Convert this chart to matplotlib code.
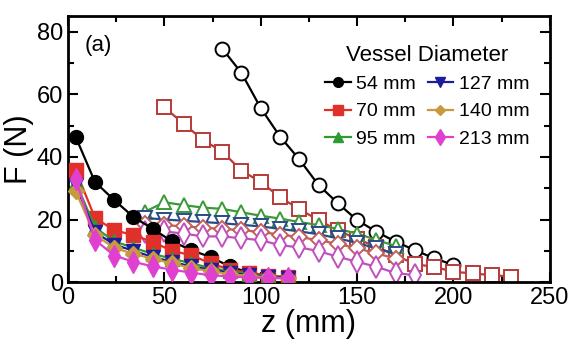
import numpy as np
import matplotlib.pyplot as plt
from matplotlib.ticker import MultipleLocator

plt.rcParams['font.family'] = ['Liberation Sans', 'DejaVu Sans']

# vessel diameters and plotting styles
diameters = ['54 mm', '70 mm', '95 mm', '127 mm', '140 mm', '213 mm']
colors = ['black', '#e0302a', '#2f9a30', '#1c1c9c', '#c89a40', '#e040d0']
edge_open = ['black', '#b83a3a', '#3a9a3a', '#2a4a8a', '#c0605a', '#c050c0']
markers = ['o', 's', '^', 'v', 'D', 'd']
sizes = [10, 10, 10, 10, 8, 11]

# filled symbols: force during insertion
z_filled = [4, 14, 24, 34, 44, 54, 64, 74, 84, 94, 104, 114]
f_filled = [
    [46.4, 32.0, 26.2, 20.8, 17.0, 13.0, 10.2, 8.0, 5.0, 3.0, 2.0, 1.5],
    [35.8, 20.5, 16.6, 15.0, 12.8, 10.0, 8.6, 6.0, 4.0, 3.0, 2.0, 1.5],
    [32.0, 17.5, 13.0, 11.0, 9.0, 7.5, 6.0, 4.5, 3.5, 2.5, 2.0, 1.5],
    [31.0, 16.0, 12.0, 10.0, 8.0, 6.5, 5.0, 4.0, 3.0, 2.2, 1.8, 1.4],
    [29.0, 15.0, 11.0, 9.0, 7.5, 6.0, 4.5, 3.5, 2.5, 2.0, 1.5, 1.2],
    [33.0, 13.5, 8.5, 6.5, 5.0, 4.0, 3.0, 2.2, 1.8, 1.5, 1.3, 1.2],
]

# open symbols: force during withdrawal
z_open = [
    [80, 90, 100, 110, 120, 130, 140, 150, 160, 170, 180, 190, 200],
    [50, 60, 70, 80, 90, 100, 110, 120, 130, 140, 150, 160, 170, 180, 190,
     200, 210, 220, 230],
    [40, 50, 60, 70, 80, 90, 100, 110, 120, 130, 140, 150, 160, 170],
    [40, 50, 60, 70, 80, 90, 100, 110, 120, 130, 140, 150, 160, 170],
    [40, 50, 60, 70, 80, 90, 100, 110, 120, 130, 140, 150, 160, 170],
    [40, 50, 60, 70, 80, 90, 100, 110, 120, 130, 140, 150, 160, 170, 180],
]
f_open = [
    [74.6, 66.8, 55.6, 46.5, 39.2, 31.0, 25.2, 19.8, 16.1, 12.9, 10.2, 7.6, 5.5],
    [55.8, 50.6, 45.4, 41.7, 35.6, 32.0, 27.1, 23.3, 19.8, 16.5, 13.8, 11.3,
     8.6, 5.7, 4.9, 3.3, 2.8, 2.2, 1.8],
    [22.5, 25.5, 24.6, 23.8, 23.4, 22.3, 21.2, 20.3, 19.2, 18.2, 17.0, 15.5,
     13.5, 11.5],
    [20.5, 20.0, 19.6, 19.2, 18.8, 18.3, 17.8, 17.0, 16.2, 15.3, 14.0, 12.5,
     10.8, 9.0],
    [18.5, 18.2, 17.8, 17.4, 17.0, 16.6, 16.0, 15.2, 14.4, 13.4, 12.2, 10.8,
     9.2, 7.5],
    [16.0, 16.2, 15.5, 14.6, 14.6, 14.0, 13.4, 11.8, 11.1, 9.9, 8.1, 6.5,
     4.9, 2.9, 2.2],
]

fig = plt.figure(figsize=(5.71, 3.54), dpi=100)
ax = fig.add_axes([0.119, 0.203, 0.844, 0.752])

# open curves first so the filled ones sit on top
for i in range(len(diameters)):
    ax.plot(z_open[i], f_open[i], color=edge_open[i], lw=1.6,
            marker=markers[i], ms=sizes[i],
            mfc='white', mec=edge_open[i], mew=1.4, zorder=2)

handles = []
for i in range(len(diameters)):
    h, = ax.plot(z_filled, f_filled[i], color=colors[i], lw=1.6,
                 marker=markers[i], ms=sizes[i],
                 mfc=colors[i], mec=colors[i], zorder=3, label=diameters[i])
    handles.append(h)

ax.set_xlim(0, 250)
ax.set_ylim(0, 85)
ax.xaxis.set_major_locator(MultipleLocator(50))
ax.xaxis.set_minor_locator(MultipleLocator(25))
ax.yaxis.set_major_locator(MultipleLocator(20))
ax.yaxis.set_minor_locator(MultipleLocator(10))
ax.tick_params(which='both', direction='in', top=True, right=True,
               width=1.5, labelsize=17)
ax.tick_params(which='major', length=7)
ax.tick_params(which='minor', length=4)
for s in ax.spines.values():
    s.set_linewidth(2)

ax.set_xlabel('z (mm)', fontsize=22, labelpad=0)
ax.set_ylabel('F (N)', fontsize=22, labelpad=2)
ax.text(0.035, 0.93, '(a)', transform=ax.transAxes, fontsize=16, va='top')

leg = ax.legend(handles=handles, ncol=2, title='Vessel Diameter',
                loc='upper right', frameon=False, fontsize=14,
                title_fontsize=16, handlelength=1.3, handletextpad=0.3,
                columnspacing=0.6, labelspacing=0.5, markerscale=0.7,
                borderpad=0.3, bbox_to_anchor=(0.99, 0.95))

fig.savefig('out.png', dpi=100)
